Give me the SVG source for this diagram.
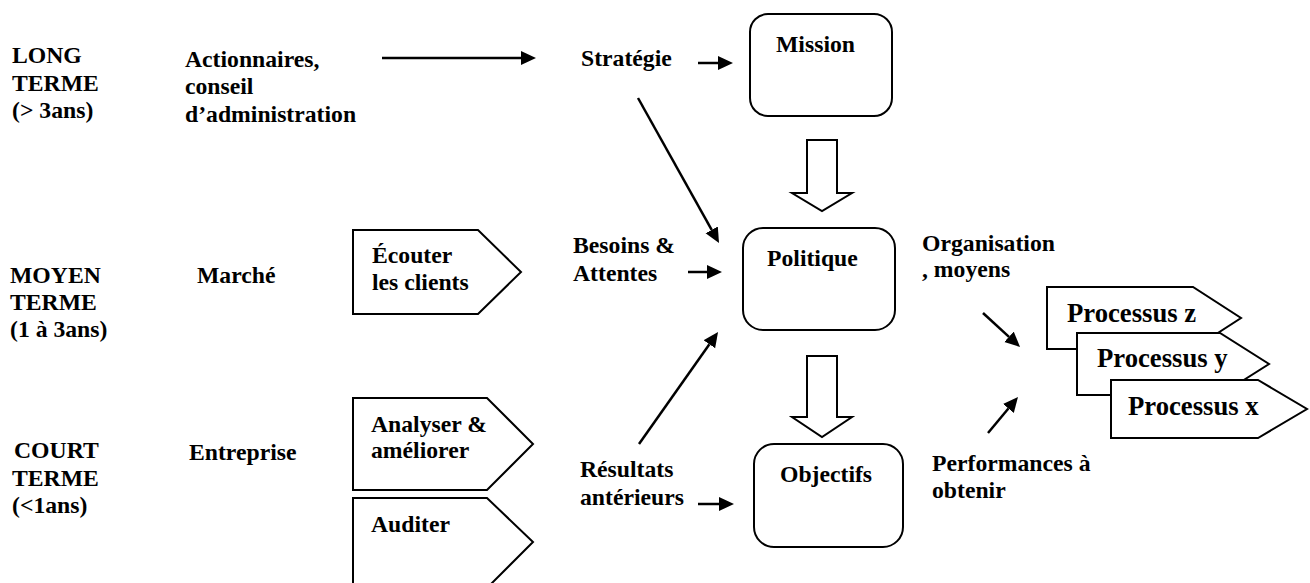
<svg xmlns="http://www.w3.org/2000/svg" width="1310" height="583" viewBox="0 0 1310 583">
  <style>
    text { font-family: "Liberation Serif", "Times New Roman", serif; font-weight: bold; font-size: 23.7px; fill: #000; }
    .proc text { font-size: 26.7px; }
    .box { fill: #fff; stroke: #000; stroke-width: 2; }
    .shape { fill: #fff; stroke: #000; stroke-width: 2; stroke-linejoin: miter; }
    .link { stroke: #000; stroke-width: 2.5; fill: none; marker-end: url(#head); }
  </style>
  <defs>
    <marker id="head" markerUnits="userSpaceOnUse" markerWidth="16" markerHeight="15" refX="0" refY="7" orient="auto">
      <path d="M0,0 L15,7 L0,14 z" fill="#000"/>
    </marker>
  </defs>

  <!-- time horizons -->
  <g id="long-terme">
    <text x="12" y="63">LONG</text>
    <text x="12" y="91">TERME</text>
    <text x="12" y="118">(&gt; 3ans)</text>
  </g>
  <g id="moyen-terme">
    <text x="10" y="283">MOYEN</text>
    <text x="10" y="310">TERME</text>
    <text x="10" y="337">(1 à 3ans)</text>
  </g>
  <g id="court-terme">
    <text x="14" y="458">COURT</text>
    <text x="12" y="486">TERME</text>
    <text x="12" y="513">(&lt;1ans)</text>
  </g>

  <!-- stakeholders -->
  <g id="actionnaires">
    <text x="185" y="67">Actionnaires,</text>
    <text x="185" y="94">conseil</text>
    <text x="185" y="122">d’administration</text>
  </g>
  <g id="marche"><text x="197" y="283">Marché</text></g>
  <g id="entreprise"><text x="189" y="460">Entreprise</text></g>

  <!-- activity tags -->
  <g id="ecouter">
    <polygon class="shape" points="353,230 478,230 521,272 478,314 353,314"/>
    <text x="372" y="263">Écouter</text>
    <text x="372" y="290">les clients</text>
  </g>
  <g id="analyser">
    <polygon class="shape" points="353,398 487,398 533,444 487,490 353,490"/>
    <text x="371" y="432">Analyser &amp;</text>
    <text x="371" y="458">améliorer</text>
  </g>
  <g id="auditer">
    <polygon class="shape" points="353,590 353,498 487,498 533,542 487,588"/>
    <text x="371" y="532">Auditer</text>
  </g>

  <!-- inputs -->
  <g id="strategie"><text x="581" y="66">Stratégie</text></g>
  <g id="besoins">
    <text x="573" y="253">Besoins &amp;</text>
    <text x="573" y="281">Attentes</text>
  </g>
  <g id="resultats">
    <text x="580" y="477">Résultats</text>
    <text x="580" y="505">antérieurs</text>
  </g>

  <!-- central chain -->
  <g id="mission">
    <rect class="box" x="750" y="14" width="142" height="102" rx="18"/>
    <text x="776" y="52">Mission</text>
  </g>
  <g id="politique">
    <rect class="box" x="743" y="228" width="152" height="102" rx="20"/>
    <text x="767" y="266">Politique</text>
  </g>
  <g id="objectifs">
    <rect class="box" x="754" y="444" width="149" height="103" rx="20"/>
    <text x="780" y="482">Objectifs</text>
  </g>

  <!-- outputs -->
  <g id="organisation">
    <text x="922" y="251">Organisation</text>
    <text x="922" y="277">, moyens</text>
  </g>
  <g id="performances">
    <text x="932" y="471">Performances à</text>
    <text x="932" y="498">obtenir</text>
  </g>

  <!-- stacked processes -->
  <g id="processus" class="proc">
    <g id="processus-z">
      <polygon class="shape" points="1047,287 1193,287 1241,318 1193,349 1047,349"/>
      <text x="1067" y="322">Processus z</text>
    </g>
    <g id="processus-y">
      <polygon class="shape" points="1077,333 1220,333 1269,364 1220,395 1077,395"/>
      <text x="1097" y="367">Processus y</text>
    </g>
    <g id="processus-x">
      <polygon class="shape" points="1111,380 1258,380 1307,409 1258,438 1111,438"/>
      <text x="1128" y="415">Processus x</text>
    </g>
  </g>

  <!-- connectors -->
  <g id="connectors">
    <line class="link" x1="382" y1="58" x2="521" y2="58"/>
    <line class="link" x1="698" y1="63" x2="718" y2="63"/>
    <line class="link" x1="638" y1="98" x2="711.7" y2="229.9"/>
    <line class="link" x1="688" y1="272" x2="707" y2="272"/>
    <line class="link" x1="639" y1="444" x2="709.4" y2="344.3"/>
    <line class="link" x1="698" y1="504" x2="719" y2="504"/>
    <line class="link" x1="983" y1="313" x2="1009" y2="336.8"/>
    <line class="link" x1="988" y1="433" x2="1008.4" y2="408.5"/>
    <!-- hollow block arrows -->
    <polygon class="shape" points="807,140 837,140 837,193 852,193 822,211 792,193 807,193"/>
    <polygon class="shape" points="807,356 837,356 837,417 852,417 822,437 792,417 807,417"/>
  </g>
</svg>
